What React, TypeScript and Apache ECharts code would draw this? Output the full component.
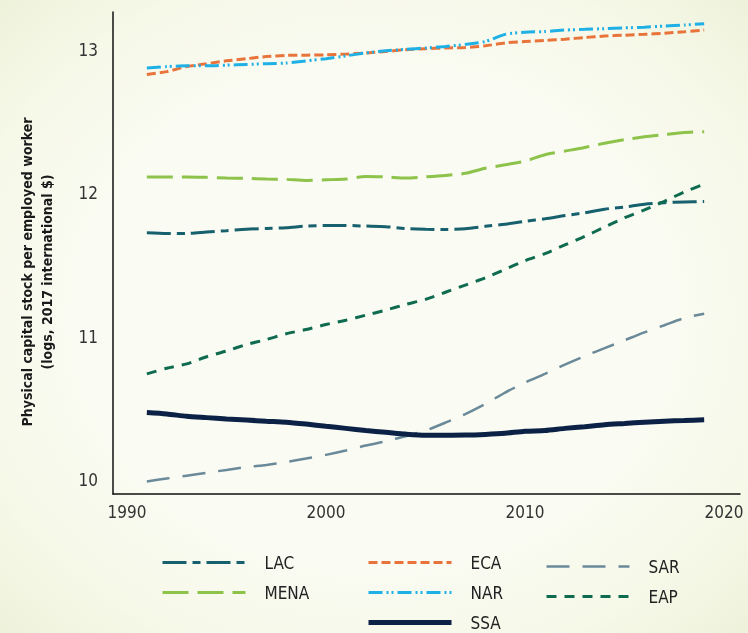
import React, { useEffect, useRef } from "react";
import * as echarts from "echarts";

const years = [1991, 1992, 1993, 1994, 1995, 1996, 1997, 1998, 1999, 2000, 2001, 2002, 2003, 2004, 2005, 2006, 2007, 2008, 2009, 2010, 2011, 2012, 2013, 2014, 2015, 2016, 2017, 2018, 2019];

const LAC = [11.725, 11.72, 11.72, 11.73, 11.74, 11.75, 11.755, 11.76, 11.772, 11.776, 11.776, 11.772, 11.768, 11.755, 11.75, 11.748, 11.753, 11.77, 11.785, 11.805, 11.823, 11.845, 11.865, 11.89, 11.905, 11.925, 11.935, 11.94, 11.944];
const MENA = [12.114, 12.115, 12.115, 12.112, 12.108, 12.105, 12.1, 12.098, 12.09, 12.095, 12.1, 12.118, 12.115, 12.107, 12.115, 12.125, 12.14, 12.175, 12.2, 12.225, 12.27, 12.295, 12.32, 12.35, 12.375, 12.395, 12.41, 12.425, 12.431];
const ECA = [12.83, 12.85, 12.885, 12.905, 12.925, 12.94, 12.955, 12.963, 12.965, 12.967, 12.972, 12.98, 12.99, 13.003, 13.01, 13.015, 13.018, 13.03, 13.05, 13.06, 13.068, 13.076, 13.088, 13.098, 13.104, 13.11, 13.118, 13.128, 13.14];
const NAR = [12.875, 12.885, 12.89, 12.89, 12.895, 12.9, 12.905, 12.91, 12.925, 12.94, 12.96, 12.98, 12.995, 13.005, 13.015, 13.025, 13.04, 13.06, 13.11, 13.125, 13.13, 13.14, 13.145, 13.15, 13.155, 13.16, 13.168, 13.175, 13.184];
const SSA = [10.47, 10.46, 10.445, 10.435, 10.425, 10.418, 10.41, 10.403, 10.39, 10.375, 10.36, 10.345, 10.333, 10.32, 10.312, 10.312, 10.313, 10.318, 10.326, 10.34, 10.345, 10.36, 10.372, 10.385, 10.394, 10.403, 10.41, 10.415, 10.42];
const SAR = [9.99, 10.01, 10.03, 10.05, 10.07, 10.09, 10.105, 10.125, 10.15, 10.175, 10.205, 10.24, 10.27, 10.305, 10.345, 10.4, 10.46, 10.53, 10.61, 10.68, 10.74, 10.805, 10.865, 10.92, 10.975, 11.03, 11.08, 11.13, 11.16];
const EAP = [10.74, 10.78, 10.81, 10.86, 10.9, 10.945, 10.98, 11.02, 11.05, 11.085, 11.115, 11.15, 11.185, 11.225, 11.26, 11.31, 11.36, 11.41, 11.47, 11.53, 11.58, 11.64, 11.7, 11.765, 11.83, 11.885, 11.945, 12.01, 12.065];

const xTickLabels = [1990, 2000, 2010, 2020];
const yTickLabels = [10, 11, 12, 13];

const yTitle1 = "Physical capital stock per employed worker";
const yTitle2 = "(logs, 2017 international $)";

const CONDENSED = "'Liberation Sans Narrow', 'DejaVu Sans Condensed', 'Open Sans', sans-serif";

type Cfg = { name: string; data: number[]; color: string; width: number; dash: number[] | "solid" };

const seriesCfg: Cfg[] = [
  { name: "LAC", data: LAC, color: "#17606e", width: 3, dash: [24, 6, 8, 6] },
  { name: "MENA", data: MENA, color: "#8dc34a", width: 3, dash: [26, 9] },
  { name: "ECA", data: ECA, color: "#e8743b", width: 3, dash: [9, 4] },
  { name: "NAR", data: NAR, color: "#1fb0e6", width: 3, dash: [14, 4, 2, 3, 2, 4] },
  { name: "SAR", data: SAR, color: "#6a8a9a", width: 2.5, dash: [23, 13] },
  { name: "EAP", data: EAP, color: "#0e6b4f", width: 3, dash: [10, 8] },
  { name: "SSA", data: SSA, color: "#0b2145", width: 5, dash: "solid" },
];

export default function App() {
  const ref = useRef<HTMLDivElement>(null);
  useEffect(() => {
    if (!ref.current) return;
    const chart = echarts.init(ref.current, null, { renderer: "svg" });
    const legendCommon = {
      orient: "vertical" as const,
      padding: 0,
      itemWidth: 83,
      itemHeight: 14,
      itemGap: 13,
      height: 120,
      itemStyle: { opacity: 0 },
      lineStyle: { width: 3 },
      textStyle: {
        fontFamily: CONDENSED,
        fontSize: 17,
        color: "#222",
        padding: [0, 0, 0, 14],
      },
    };
    const legendItem = (name: string) => {
      const cfg = seriesCfg.find((s) => s.name === name)!;
      return { name, lineStyle: { width: cfg.width } };
    };
    chart.setOption({
      animation: false,
      backgroundColor: "transparent",
      grid: { left: 113, top: 12, right: 8, bottom: 139, containLabel: false },
      xAxis: {
        type: "value",
        min: 1989.3,
        max: 2020.8,
        axisLine: { show: true, lineStyle: { color: "#111", width: 1.5 } },
        axisTick: { show: false },
        splitLine: { show: false },
        axisLabel: {
          customValues: xTickLabels,
          margin: 9,
          fontFamily: CONDENSED,
          fontSize: 17,
          color: "#333",
          formatter: (v: number) => String(v),
        },
      },
      yAxis: {
        type: "value",
        min: 9.902,
        max: 13.266,
        axisLine: { show: true, lineStyle: { color: "#111", width: 1.5 } },
        axisTick: { show: false },
        splitLine: { show: false },
        axisLabel: {
          customValues: yTickLabels,
          margin: 15,
          fontFamily: CONDENSED,
          fontSize: 17,
          color: "#333",
          formatter: (v: number) => String(v),
        },
      },
      legend: [
        { ...legendCommon, left: 161, top: 554, data: ["LAC", "MENA"].map(legendItem) },
        { ...legendCommon, left: 366, top: 554, data: ["ECA", "NAR", "SSA"].map(legendItem) },
        { ...legendCommon, left: 545, top: 558, data: ["SAR", "EAP"].map(legendItem) },
      ],
      graphic: [
        {
          type: "text",
          x: 37,
          y: 272,
          rotation: Math.PI / 2,
          style: {
            text: yTitle1 + "\n" + yTitle2,
            fontFamily: CONDENSED,
            fontWeight: "bold",
            fontSize: 14,
            lineHeight: 20,
            fill: "#1a1a1a",
            align: "center",
            verticalAlign: "middle",
          },
        },
      ],
      series: seriesCfg.map((s) => ({
        name: s.name,
        type: "line",
        smooth: 0.25,
        symbol: "none",
        showSymbol: false,
        data: years.map((y, i) => [y, s.data[i]]),
        lineStyle: { color: s.color, width: s.width, type: s.dash },
        itemStyle: { color: s.color },
        emphasis: { disabled: true },
      })),
    });
    return () => chart.dispose();
  }, []);
  return (
    <div
      style={{
        position: "fixed",
        left: 0,
        top: 0,
        width: 748,
        height: 633,
        background: "radial-gradient(ellipse at 50% 50%, #fafbf2 55%, #f6f8e8 80%, #eef2da 100%)",
      }}
    >
      <div ref={ref} style={{ width: 748, height: 633 }} />
    </div>
  );
}
